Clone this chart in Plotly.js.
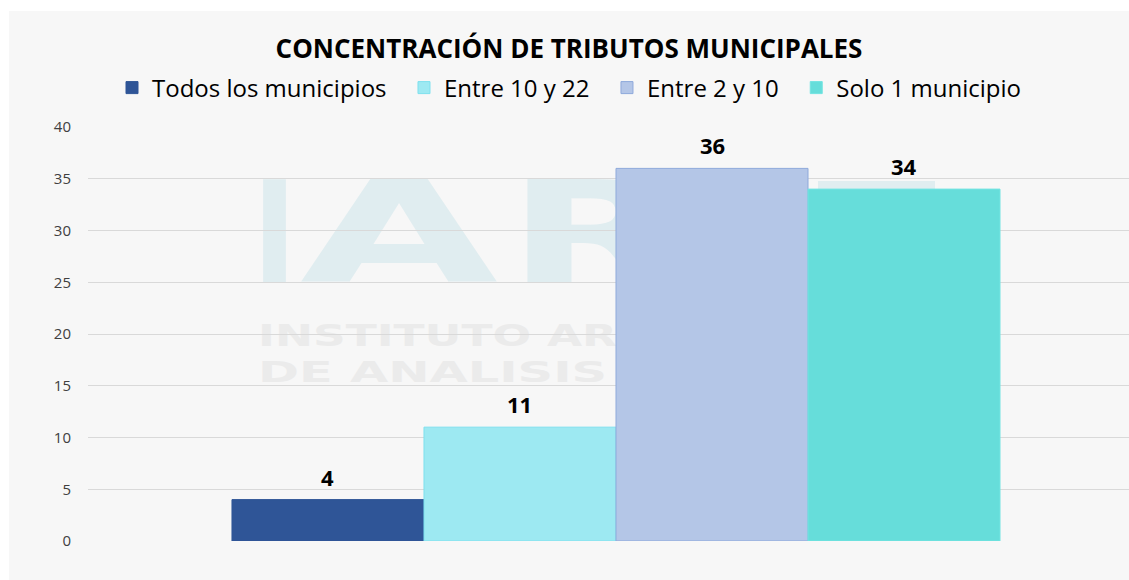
<!DOCTYPE html>
<html>
<head>
<meta charset="utf-8">
<script src="https://cdn.plot.ly/plotly-3.0.1.min.js"></script>
<style>
  html, body { margin: 0; padding: 0; background: #ffffff; width: 1129px; height: 580px; overflow: hidden; }
  #panel { position: absolute; left: 9px; top: 11px; width: 1120px; height: 569px; background: #f7f7f7; }
  #wm { position: absolute; left: 0; top: 0; width: 1129px; height: 580px; }
  #chart { position: absolute; left: 9px; top: 11px; width: 1120px; height: 569px; }
</style>
</head>
<body>
<div id="panel"></div>
<svg id="wm" width="1129" height="580">
  <g font-family="DejaVu Sans" font-weight="bold" font-size="140" fill="#e0edf0">
    <text x="252" y="282" textLength="45" lengthAdjust="spacingAndGlyphs">I</text>
    <text x="300" y="282" textLength="198" lengthAdjust="spacingAndGlyphs">A</text>
    <text x="506" y="282" textLength="180" lengthAdjust="spacingAndGlyphs">R</text>
  </g>
  <rect x="818" y="181" width="117" height="9" fill="#e0edf0"></rect>
  <text x="258" y="346" font-family="DejaVu Sans" font-weight="bold" font-size="31" fill="#ebebeb" textLength="590" lengthAdjust="spacingAndGlyphs">INSTITUTO ARGENTINO</text>
  <text x="258" y="382" font-family="DejaVu Sans" font-weight="bold" font-size="29" fill="#ebebeb" textLength="560" lengthAdjust="spacingAndGlyphs">DE ANALISIS FISCAL</text>
</svg>
<div id="chart"></div>
<script>
const categories = ['Tributos municipales'];
const seriesNames = ['Todos los municipios', 'Entre 10 y 22', 'Entre 2 y 10', 'Solo 1 municipio'];
const seriesValues = [4, 11, 36, 34];
const fillColors = ['#2F5597', '#9DE9F2', '#B4C6E7', '#66DDDA'];
const lineColors = ['#2F5597', '#7EE0EE', '#8EA9DB', '#72E4E2'];
const yTicks = [0, 5, 10, 15, 20, 25, 30, 35, 40];

const FONT = '"Open Sans", Lato, sans-serif';
const BARGAP = 0.2727;
const NBSP = '\u00a0';

const traces = seriesNames.map((name, i) => ({
  type: 'bar',
  name: i < seriesNames.length - 1 ? name + NBSP + NBSP : name,
  x: categories,
  y: [seriesValues[i]],
  marker: { color: fillColors[i], line: { color: lineColors[i], width: 1 } },
  hoverinfo: 'skip'
}));

// value labels over each bar of the group (offsets follow bargap / number of series)
const n = seriesNames.length;
const barW = (1 - BARGAP) / n;
const annotations = seriesValues.map((v, i) => ({
  xref: 'x', yref: 'y',
  x: (i - (n - 1) / 2) * barW,
  y: v,
  text: '<b>' + v + '</b>',
  showarrow: false,
  xanchor: 'center', yanchor: 'bottom',
  yshift: 6,
  font: { family: FONT, size: 22, color: '#000000' }
}));

const layout = {
  width: 1120,
  height: 569,
  paper_bgcolor: 'rgba(0,0,0,0)',
  plot_bgcolor: 'rgba(0,0,0,0)',
  margin: { l: 79, r: 0, t: 116, b: 39 },
  barmode: 'group',
  bargap: BARGAP,
  bargroupgap: 0,
  showlegend: true,
  annotations: annotations,
  title: {
    text: '<b>CONCENTRACIÓN DE TRIBUTOS MUNICIPALES</b>',
    font: { family: FONT, size: 26, color: '#000000' },
    x: 0.5, xanchor: 'center',
    y: 1 - 38 / 569, yanchor: 'middle', yref: 'container'
  },
  legend: {
    orientation: 'h',
    x: 0.5, xanchor: 'center', xref: 'container',
    y: 1 - 77 / 569, yanchor: 'middle', yref: 'container',
    font: { family: FONT, size: 24, color: '#000000' },
    bgcolor: 'rgba(0,0,0,0)',
    traceorder: 'normal'
  },
  xaxis: {
    range: [-0.5, 0.4858],
    showticklabels: false,
    showgrid: false,
    zeroline: false,
    showline: false,
    ticks: ''
  },
  yaxis: {
    range: [0, 40],
    tickvals: yTicks,
    ticktext: yTicks.map(String),
    showgrid: true,
    gridcolor: '#D9D9D9',
    gridwidth: 1,
    zeroline: false,
    showline: false,
    ticks: '',
    ticklabelstandoff: 16,
    tickfont: { family: FONT, size: 15, color: '#404040' }
  }
};

Plotly.newPlot('chart', traces, layout, { displayModeBar: false, staticPlot: true });
</script>
</body>
</html>
